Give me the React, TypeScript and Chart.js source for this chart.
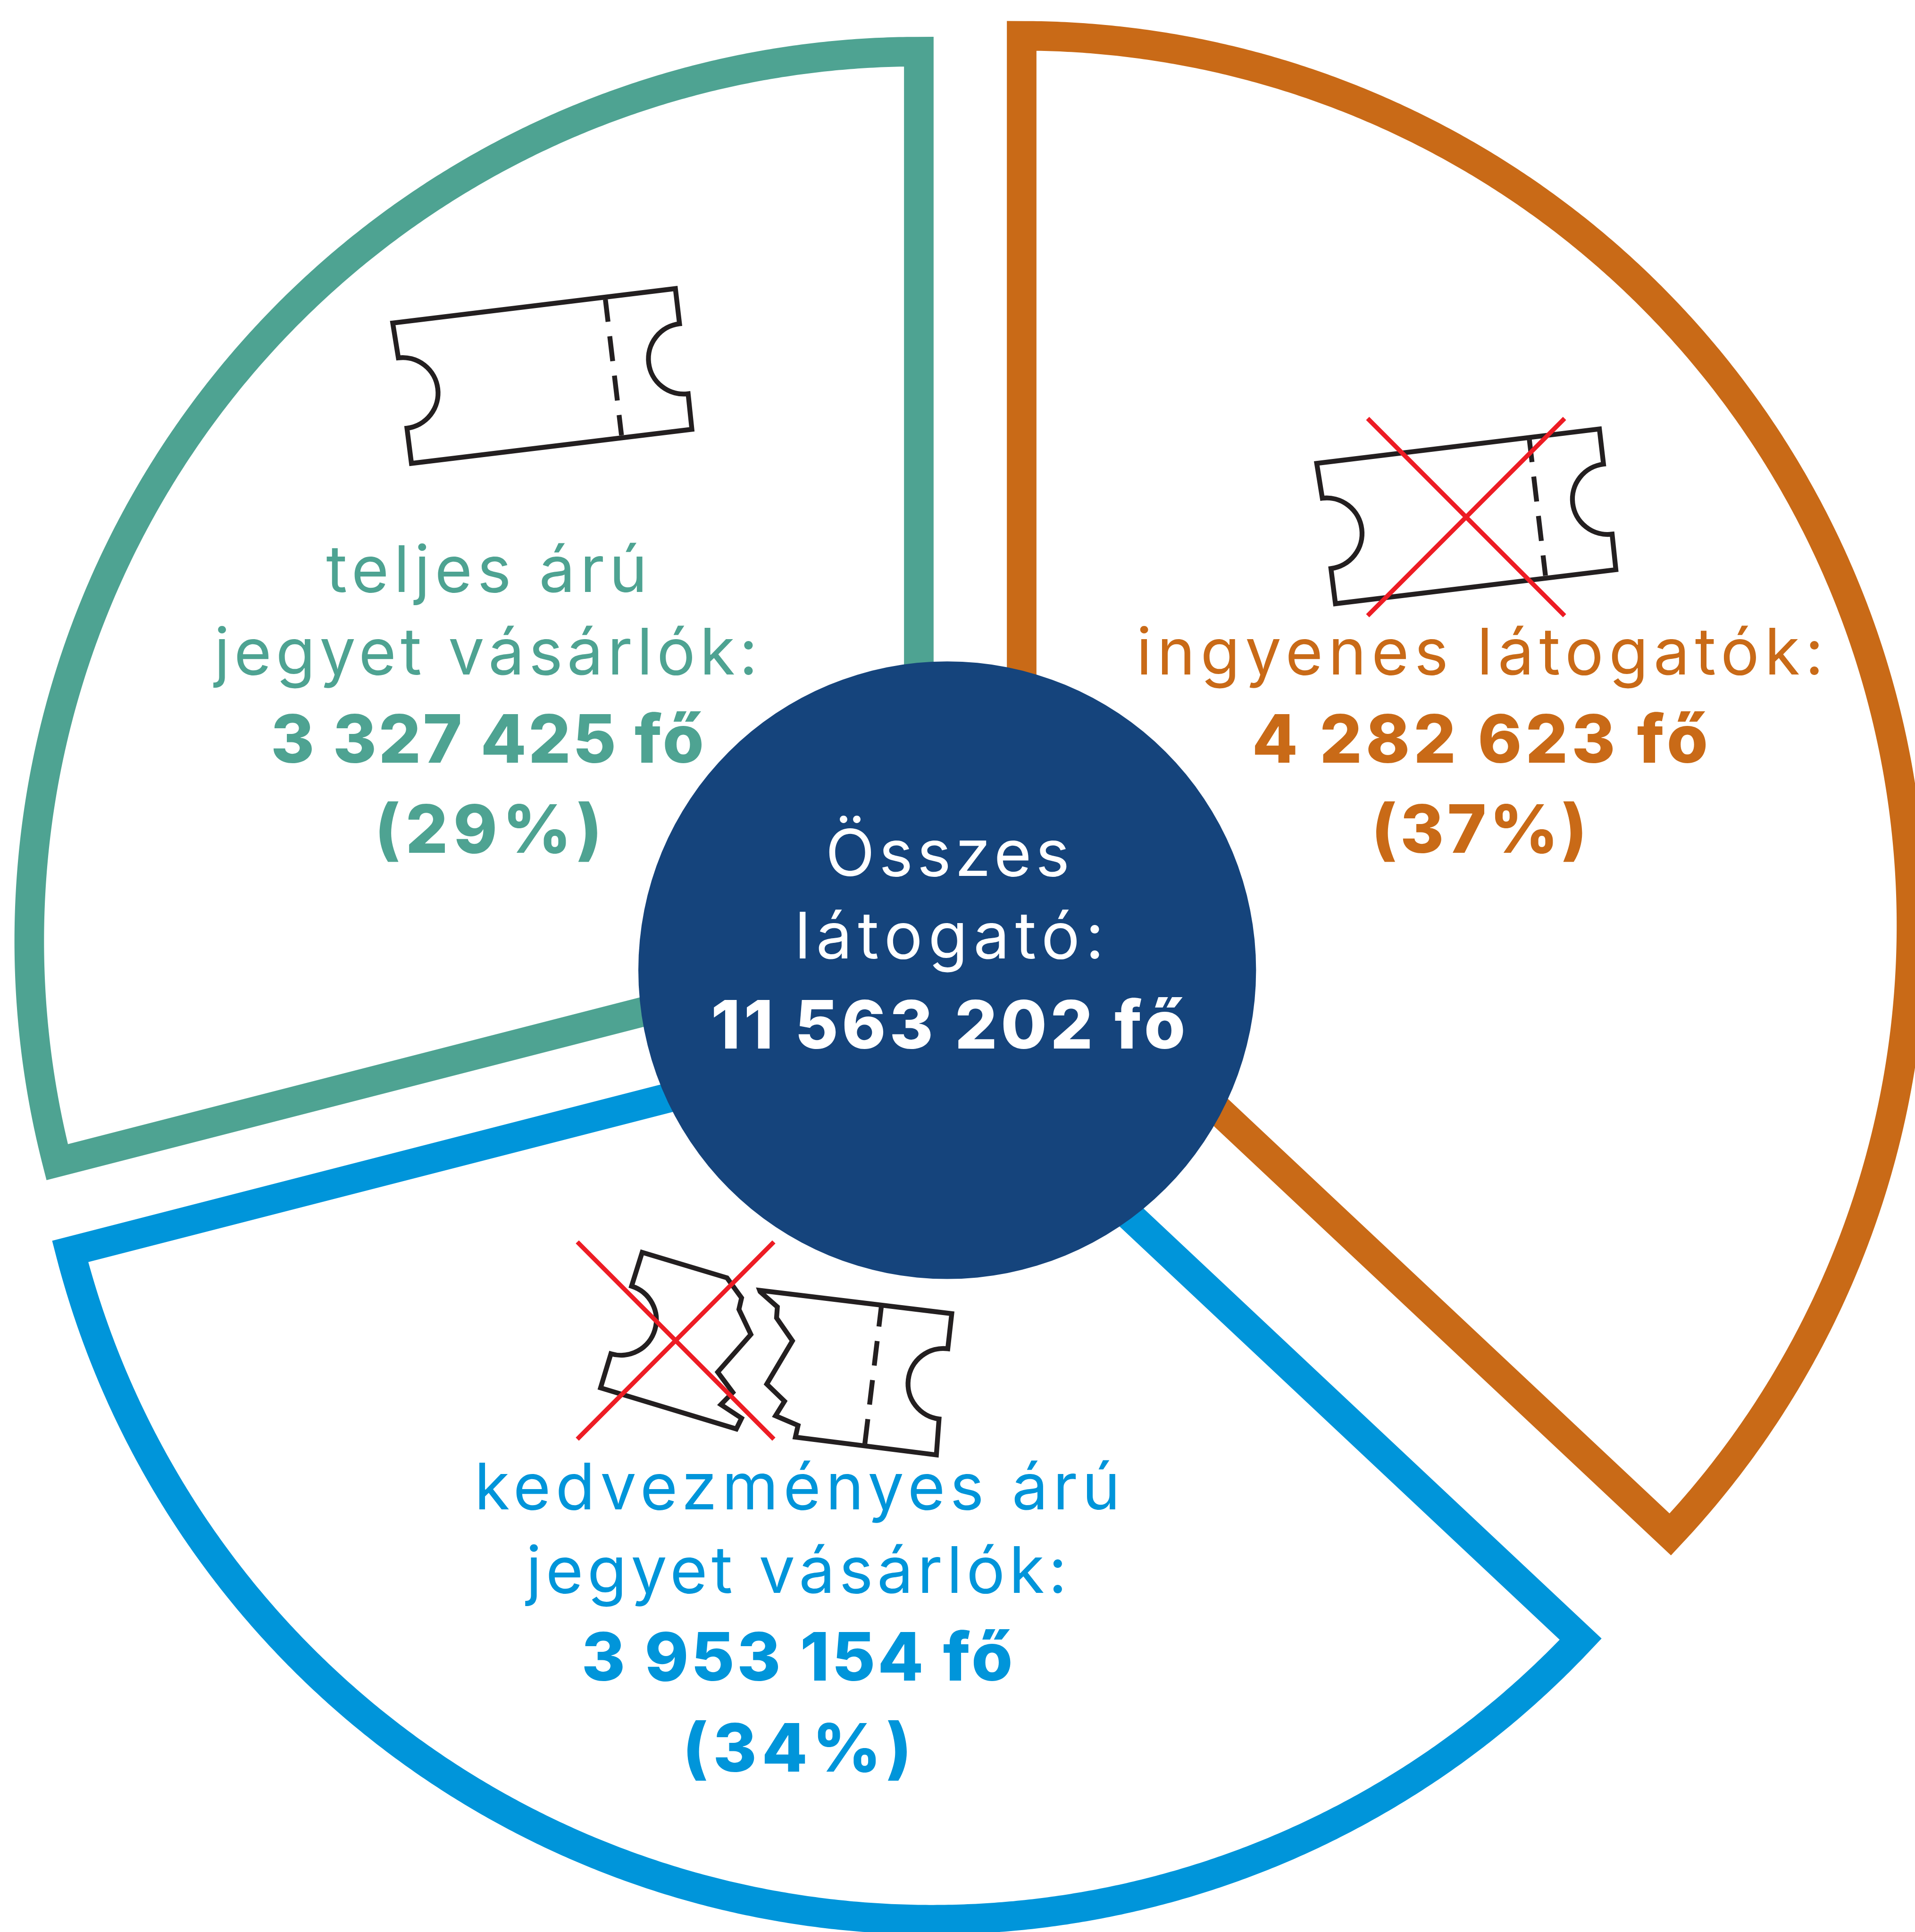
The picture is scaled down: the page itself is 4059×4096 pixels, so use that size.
import React, { useEffect, useRef } from "react";
import { Chart, registerables } from "chart.js";

Chart.register(...registerables);

const WIDTH = 4059;
const HEIGHT = 4096;
const S = 4059 / 5115;

const CATEGORIES = ["ingyenes látogatók", "kedvezményes árú jegyet vásárlók", "teljes árú jegyet vásárlók"];
const SHARE = [37, 34, 29];
const SLICE_COLORS = ["#C96A17", "#0095DA", "#4EA392"];

const VISITORS = ["4 282 623 fő", "3 953 154 fő", "3 327 425 fő"];
const SHARE_LABELS = ["(37%)", "(34%)", "(29%)"];
const TOTAL_LABEL = "11 563 202 fő";

const BORDER = 62.7;
const EXPLODE_X = [152, -38, -66];
const EXPLODE_Y = [-76, 146, -43];
const RADII = [1886, 1886, 1885.5];

const NAVY = "#15447C";
const INK = "#231F20";
const RED = "#ED1C24";

type Line = [string, number, number, number, string, boolean];
const [ORANGE, BLUE, GREEN] = SLICE_COLORS;
const LINES: Line[] = [
  ["teljes árú", 871, 1729, 1581, GREEN, false],
  ["jegyet vásárlók:", 572, 2024, 1802, GREEN, false],
  [VISITORS[2], 723, 1880, 2038, GREEN, true],
  [SHARE_LABELS[2], 1001, 1608, 2279, GREEN, true],
  ["ingyenes látogatók:", 3035, 4871, 1802, ORANGE, false],
  [VISITORS[0], 3344, 4562, 2038, ORANGE, true],
  [SHARE_LABELS[0], 3663, 4239, 2279, ORANGE, true],
  ["Összes", 2205, 2857, 2340, "#FFFFFF", false],
  ["látogató:", 2123, 2949, 2561, "#FFFFFF", false],
  [TOTAL_LABEL, 1899, 3166, 2801, "#FFFFFF", true],
  ["kedvezményes árú", 1267, 2992, 4032, BLUE, false],
  ["jegyet vásárlók:", 1405, 2850, 4256, BLUE, false],
  [VISITORS[1], 1553, 2705, 4490, BLUE, true],
  [SHARE_LABELS[1], 1823, 2435, 4733, BLUE, true],
];

type P = [number, number];

function arc3(ctx: CanvasRenderingContext2D, a: P, b: P, c: P) {
  const d = 2 * (a[0] * (b[1] - c[1]) + b[0] * (c[1] - a[1]) + c[0] * (a[1] - b[1]));
  const sa = a[0] * a[0] + a[1] * a[1];
  const sb = b[0] * b[0] + b[1] * b[1];
  const sc = c[0] * c[0] + c[1] * c[1];
  const ux = (sa * (b[1] - c[1]) + sb * (c[1] - a[1]) + sc * (a[1] - b[1])) / d;
  const uy = (sa * (c[0] - b[0]) + sb * (a[0] - c[0]) + sc * (b[0] - a[0])) / d;
  const r = Math.hypot(a[0] - ux, a[1] - uy);
  const cross = (b[0] - a[0]) * (c[1] - b[1]) - (b[1] - a[1]) * (c[0] - b[0]);
  ctx.arc(ux, uy, r, Math.atan2(a[1] - uy, a[0] - ux), Math.atan2(c[1] - uy, c[0] - ux), cross < 0);
}

function wholeTicket(ctx: CanvasRenderingContext2D, dx: number, dy: number) {
  const t = (x: number, y: number): P => [x + dx, y + dy];
  ctx.beginPath();
  ctx.moveTo(...t(1049, 863));
  ctx.lineTo(...t(1804, 771));
  ctx.lineTo(...t(1815, 865));
  arc3(ctx, t(1815, 865), t(1732, 959), t(1838, 1052));
  ctx.lineTo(...t(1848, 1147));
  ctx.lineTo(...t(1099, 1238));
  ctx.lineTo(...t(1087, 1144));
  arc3(ctx, t(1087, 1144), t(1170, 1049), t(1064, 956));
  ctx.closePath();
  ctx.stroke();
  ctx.save();
  ctx.setLineDash([67, 39]);
  ctx.lineDashOffset = 7;
  ctx.beginPath();
  ctx.moveTo(...t(1617, 800));
  ctx.lineTo(...t(1660, 1163));
  ctx.stroke();
  ctx.restore();
}

function cross(ctx: CanvasRenderingContext2D, x0: number, y0: number, x1: number, y1: number) {
  ctx.save();
  ctx.strokeStyle = RED;
  ctx.lineWidth = 12;
  ctx.lineCap = "butt";
  ctx.beginPath();
  ctx.moveTo(x0, y0);
  ctx.lineTo(x1, y1);
  ctx.moveTo(x1, y0);
  ctx.lineTo(x0, y1);
  ctx.stroke();
  ctx.restore();
}

function tornTicket(ctx: CanvasRenderingContext2D) {
  const z = (x: number, y: number): P => [1510 + x / 1.4126, 3280 + y / 2.613];
  const poly = (pts: P[]) => pts.forEach((p) => ctx.lineTo(...z(p[0], p[1])));
  ctx.beginPath();
  ctx.moveTo(...z(290, 172));
  poly([[610, 350], [665, 490], [655, 570], [700, 745], [575, 1008], [632, 1150], [587, 1235], [665, 1330], [645, 1405], [133, 1118], [172, 880]]);
  arc3(ctx, z(172, 880), z(343, 660), z(250, 408));
  ctx.closePath();
  ctx.stroke();
  ctx.beginPath();
  ctx.moveTo(...z(733, 437));
  poly([[1458, 600], [1443, 845]]);
  arc3(ctx, z(1443, 845), z(1293, 1090), z(1410, 1335));
  poly([[1400, 1586], [868, 1462], [878, 1380], [793, 1313], [827, 1212], [760, 1092], [857, 790], [797, 630], [800, 553], [735, 447]]);
  ctx.closePath();
  ctx.stroke();
  ctx.save();
  ctx.setLineDash([66, 39]);
  ctx.lineDashOffset = 14;
  ctx.beginPath();
  ctx.moveTo(...z(1192, 555));
  ctx.lineTo(...z(1130, 1510));
  ctx.stroke();
  ctx.restore();
}

// Strokes a slice from the geometry the pie controller computed, starting at its
// apex so that both outer corners get a clean mitre.
function drawSlice(this: any, ctx: CanvasRenderingContext2D) {
  const { x, y, startAngle, endAngle, outerRadius, options } = this;
  const steps = Math.ceil(((endAngle - startAngle) * 180) / Math.PI / 0.25);
  ctx.save();
  ctx.beginPath();
  ctx.moveTo(x, y);
  for (let k = 0; k <= steps; k++) {
    const a = startAngle + ((endAngle - startAngle) * k) / steps;
    ctx.lineTo(x + Math.cos(a) * outerRadius, y + Math.sin(a) * outerRadius);
  }
  ctx.closePath();
  ctx.fillStyle = options.backgroundColor;
  ctx.fill();
  ctx.strokeStyle = options.borderColor;
  ctx.lineWidth = options.borderWidth;
  ctx.lineJoin = "miter";
  ctx.stroke();
  ctx.restore();
}

const overlay = {
  id: "overlay",
  afterDatasetsUpdate(chart: any) {
    chart.getDatasetMeta(0).data.forEach((arc: any, i: number) => {
      arc.x += EXPLODE_X[i];
      arc.y += EXPLODE_Y[i];
      arc.outerRadius = RADII[i];
      arc.draw = drawSlice;
    });
  },
  afterDraw(chart: any) {
    const ctx: CanvasRenderingContext2D = chart.ctx;
    ctx.save();
    ctx.scale(S, S);
    ctx.fillStyle = NAVY;
    ctx.beginPath();
    ctx.arc(2530, 2592, 825, 0, Math.PI * 2);
    ctx.fill();

    ctx.strokeStyle = INK;
    ctx.lineWidth = 13;
    ctx.lineJoin = "miter";
    wholeTicket(ctx, 0, 0);
    wholeTicket(ctx, 2468, 375);
    cross(ctx, 3653, 1118, 4179, 1645);
    tornTicket(ctx);
    cross(ctx, 1542, 3318, 2067, 3845);

    ctx.textAlign = "left";
    ctx.textBaseline = "alphabetic";
    for (const [text, left, right, base, color, bold] of LINES) {
      ctx.font = bold ? '800 178px Inter, "Noto Sans", sans-serif' : '400 172px Inter, "Noto Sans", sans-serif';
      (ctx as any).letterSpacing = "0px";
      const w = ctx.measureText(text).width;
      const ls = (right - left - w) / Math.max(1, text.length - 1);
      (ctx as any).letterSpacing = `${ls}px`;
      ctx.fillStyle = color;
      ctx.fillText(text, left, base);
    }
    (ctx as any).letterSpacing = "0px";
    ctx.restore();
  },
};

export default function App() {
  const ref = useRef<HTMLCanvasElement>(null);
  useEffect(() => {
    const chart = new Chart(ref.current!, {
      type: "pie",
      data: {
        labels: CATEGORIES,
        datasets: [
          {
            data: SHARE,
            backgroundColor: "#FFFFFF",
            borderColor: SLICE_COLORS,
            borderWidth: BORDER,
            clip: false,
          } as any,
        ],
      },
      options: {
        responsive: false,
        animation: false,
        devicePixelRatio: 1,
        rotation: 0,
        radius: 1880,
        layout: { padding: { left: 0, top: 0, right: 32, bottom: 20 } },
        plugins: { legend: { display: false }, tooltip: { enabled: false } },
      } as any,
      plugins: [overlay],
    });
    return () => chart.destroy();
  }, []);
  return (
    <canvas
      ref={ref}
      width={WIDTH}
      height={HEIGHT}
      style={{ position: "absolute", left: 0, top: 0, width: WIDTH, height: HEIGHT }}
    />
  );
}
